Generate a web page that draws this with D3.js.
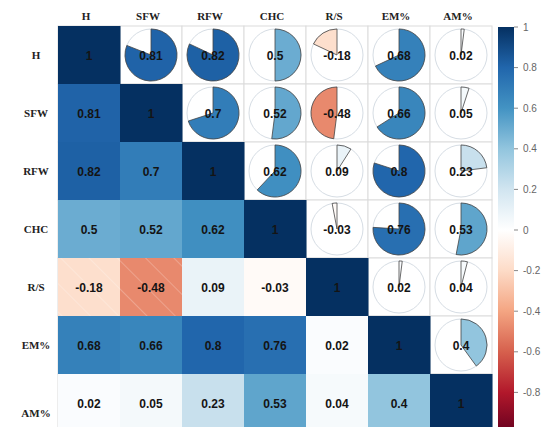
<!DOCTYPE html>
<html>
<head>
<meta charset="utf-8">
<script src="https://cdn.jsdelivr.net/npm/d3@7"></script>
<style>
  body { margin: 0; background: #fff; }
  svg { display: block; }
</style>
</head>
<body>
<div id="chart-area"></div>
<script>
var vars = ["H", "SFW", "RFW", "CHC", "R/S", "EM%", "AM%"];

// correlation matrix, read row by row
var rH   = [1, 0.81, 0.82, 0.5, -0.18, 0.68, 0.02];
var rSFW = [0.81, 1, 0.7, 0.52, -0.48, 0.66, 0.05];
var rRFW = [0.82, 0.7, 1, 0.62, 0.09, 0.8, 0.23];
var rCHC = [0.5, 0.52, 0.62, 1, -0.03, 0.76, 0.53];
var rRS  = [-0.18, -0.48, 0.09, -0.03, 1, 0.02, 0.04];
var rEM  = [0.68, 0.66, 0.8, 0.76, 0.02, 1, 0.4];
var rAM  = [0.02, 0.05, 0.23, 0.53, 0.04, 0.4, 1];
var matrix = [rH, rSFW, rRFW, rCHC, rRS, rEM, rAM];

// the -1 end of the bar falls below the picture, so it has no label
var legendTicks = [1, 0.8, 0.6, 0.4, 0.2, 0, -0.2, -0.4, -0.6, -0.8];
var legendLabels = ["1", "0.8", "0.6", "0.4", "0.2", "0", "-0.2", "-0.4", "-0.6", "-0.8"];

var W = 544, H = 427;
var grid = { left: 58, top: 26, width: 434, height: 406 };

var svg = d3.select("#chart-area")
    .append("svg")
    .attr("width", W)
    .attr("height", H);

var palette = ["#67001F", "#B2182B", "#D6604D", "#F4A582", "#FDDBC7", "#FFFFFF",
               "#D1E5F0", "#92C5DE", "#4393C3", "#2166AC", "#053061"];
var color = d3.scaleLinear()
    .domain(d3.range(11).map(i => -1 + i * 0.2))
    .range(palette)
    .interpolate(d3.interpolateRgb);

var x = d3.scaleBand().domain(vars).range([grid.left, grid.left + grid.width]);
var y = d3.scaleBand().domain(vars).range([grid.top, grid.top + grid.height]);

// hatch for the two negative cells
var defs = svg.append("defs");
var pat = defs.append("pattern")
    .attr("id", "hatch")
    .attr("patternUnits", "userSpaceOnUse")
    .attr("width", 20).attr("height", 20)
    .attr("patternTransform", "rotate(-45)");
pat.append("line")
    .attr("x1", 0).attr("y1", 0).attr("x2", 0).attr("y2", 20)
    .attr("stroke", "#fff").attr("stroke-width", 1).attr("stroke-opacity", 0.45);

var cells = [];
matrix.forEach((row, i) => {
    row.forEach((v, j) => {
        cells.push({ r: vars[i], c: vars[j], i: i, j: j, v: v });
    });
});

// grid lines
svg.append("g").selectAll("rect")
    .data(cells)
    .enter().append("rect")
    .attr("x", d => x(d.c))
    .attr("y", d => y(d.r))
    .attr("width", x.bandwidth())
    .attr("height", y.bandwidth())
    .attr("fill", "#fff")
    .attr("stroke", "#dcdcdc")
    .attr("stroke-width", 1);

// lower triangle + diagonal: full squares
var lower = cells.filter(d => d.i >= d.j);
svg.append("g").selectAll("rect")
    .data(lower)
    .enter().append("rect")
    .attr("x", d => x(d.c))
    .attr("y", d => y(d.r))
    .attr("width", x.bandwidth() + 0.5)
    .attr("height", y.bandwidth() + 0.5)
    .attr("fill", d => color(d.v));

svg.append("g").selectAll("rect")
    .data(lower.filter(d => d.v < -0.1))
    .enter().append("rect")
    .attr("x", d => x(d.c))
    .attr("y", d => y(d.r))
    .attr("width", x.bandwidth())
    .attr("height", y.bandwidth())
    .attr("fill", "url(#hatch)");

// upper triangle: pies
var upper = cells.filter(d => d.i < d.j);
var rad = 26;
var arc = d3.arc().innerRadius(0).outerRadius(rad);

var pies = svg.append("g").selectAll("g")
    .data(upper)
    .enter().append("g")
    .attr("transform", d => "translate(" + (x(d.c) + x.bandwidth() / 2) + "," + (y(d.r) + y.bandwidth() / 2) + ")");

pies.append("circle")
    .attr("r", rad)
    .attr("fill", "#fff")
    .attr("stroke", "#d6dde4")
    .attr("stroke-width", 1);

pies.append("path")
    .attr("d", d => d.v >= 0
        ? arc({ startAngle: 0, endAngle: d.v * 2 * Math.PI })
        : arc({ startAngle: d.v * 2 * Math.PI, endAngle: 0 }))
    .attr("fill", d => color(d.v))
    .attr("stroke", "#444")
    .attr("stroke-width", 0.8);

// values
svg.append("g").selectAll("text")
    .data(cells)
    .enter().append("text")
    .attr("x", d => x(d.c) + x.bandwidth() / 2)
    .attr("y", d => y(d.r) + y.bandwidth() / 2 + 1)
    .attr("text-anchor", "middle")
    .attr("dominant-baseline", "central")
    .attr("font-family", "Liberation Sans, Arial, sans-serif")
    .attr("font-weight", "bold")
    .attr("font-size", 12)
    .attr("fill", "#141414")
    .text(d => String(d.v));

// axis labels
svg.append("g").selectAll("text")
    .data(vars)
    .enter().append("text")
    .attr("x", d => x(d) + x.bandwidth() / 2 - 3)
    .attr("y", 20)
    .attr("text-anchor", "middle")
    .attr("font-family", "Liberation Serif, Times New Roman, serif")
    .attr("font-weight", "bold")
    .attr("font-size", 11)
    .attr("fill", "#222")
    .text(d => d);

svg.append("g").selectAll("text")
    .data(vars)
    .enter().append("text")
    .attr("x", 36)
    .attr("y", d => y(d) + y.bandwidth() / 2 + (d === "AM%" ? 10 : 0))
    .attr("text-anchor", "middle")
    .attr("dominant-baseline", "central")
    .attr("font-family", "Liberation Serif, Times New Roman, serif")
    .attr("font-weight", "bold")
    .attr("font-size", 11)
    .attr("fill", "#222")
    .text(d => d);

// colour bar
var barX = 498, barW = 16;
var ly = d3.scaleLinear().domain([1, -1]).range([27, 433]);
var grad = defs.append("linearGradient")
    .attr("id", "cbar")
    .attr("x1", 0).attr("y1", 0).attr("x2", 0).attr("y2", 1);
palette.slice().reverse().forEach((c, k) => {
    grad.append("stop")
        .attr("offset", (k / 10 * 100) + "%")
        .attr("stop-color", c);
});
svg.append("rect")
    .attr("x", barX)
    .attr("y", ly(1))
    .attr("width", barW)
    .attr("height", ly(-1) - ly(1))
    .attr("fill", "url(#cbar)");

var lg = svg.append("g").selectAll("g")
    .data(legendTicks)
    .enter().append("g")
    .attr("transform", d => "translate(0," + ly(d) + ")");
lg.append("line")
    .attr("x1", barX + barW).attr("x2", barX + barW + 4)
    .attr("stroke", "#888").attr("stroke-width", 1);
lg.append("text")
    .attr("x", barX + barW + 9)
    .attr("dominant-baseline", "central")
    .attr("font-family", "Liberation Sans, Arial, sans-serif")
    .attr("font-size", 10)
    .attr("fill", "#666")
    .text((d, k) => legendLabels[k]);
</script>
</body>
</html>
